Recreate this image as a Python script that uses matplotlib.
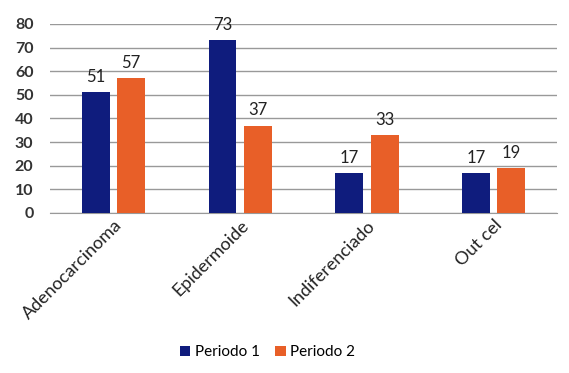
import numpy as np
import matplotlib
matplotlib.use("Agg")
import matplotlib.pyplot as plt

categories = ["Adenocarcinoma", "Epidermoide", "Indiferenciado", "Out cel"]
periodo1 = [51, 73, 17, 17]
periodo2 = [57, 37, 33, 19]
yticks = [0, 10, 20, 30, 40, 50, 60, 70, 80]

plt.rcParams["font.family"] = ["Lato", "DejaVu Sans"]

fig = plt.figure(figsize=(5.69, 3.73), dpi=100)
ax = fig.add_axes([0.088, 0.429, 0.891, 0.507])

x = np.arange(len(categories))
w = 0.22
off = 0.14
b1 = ax.bar(x - off, periodo1, w, color="#0f1c7d", label="Periodo 1", zorder=3)
b2 = ax.bar(x + off, periodo2, w, color="#e85f28", label="Periodo 2", zorder=3)

for bars, vals in ((b1, periodo1), (b2, periodo2)):
    for r, v in zip(bars, vals):
        ax.text(r.get_x() + r.get_width() / 2, v + 3, str(v), ha="center", va="bottom",
                fontsize=12, color="#222222")

ax.set_xlim(-0.5, len(categories) - 0.5)
ax.set_ylim(0, 80)
ax.set_yticks(yticks)
ax.set_yticklabels([str(t) for t in yticks], fontsize=11.5, color="#333333", fontweight="bold")
ax.yaxis.grid(True, color="#999999", linewidth=1.0, zorder=0)
ax.tick_params(axis="both", length=0, pad=12)
ax.tick_params(axis="x", pad=3)
ax.set_xticks(x)
ax.set_xticklabels(categories, rotation=45, ha="right", rotation_mode="anchor",
                   fontsize=13, color="#222222")
for s in ["top", "right", "left"]:
    ax.spines[s].set_visible(False)
ax.spines["bottom"].set_color("#999999")

fig.legend(handles=[b1, b2], loc="center", bbox_to_anchor=(0.47, 0.055), ncol=2,
           frameon=False, fontsize=11, handlelength=0.7, handleheight=0.7,
           handletextpad=0.3, columnspacing=1.0)

fig.savefig("out.png", dpi=100)
